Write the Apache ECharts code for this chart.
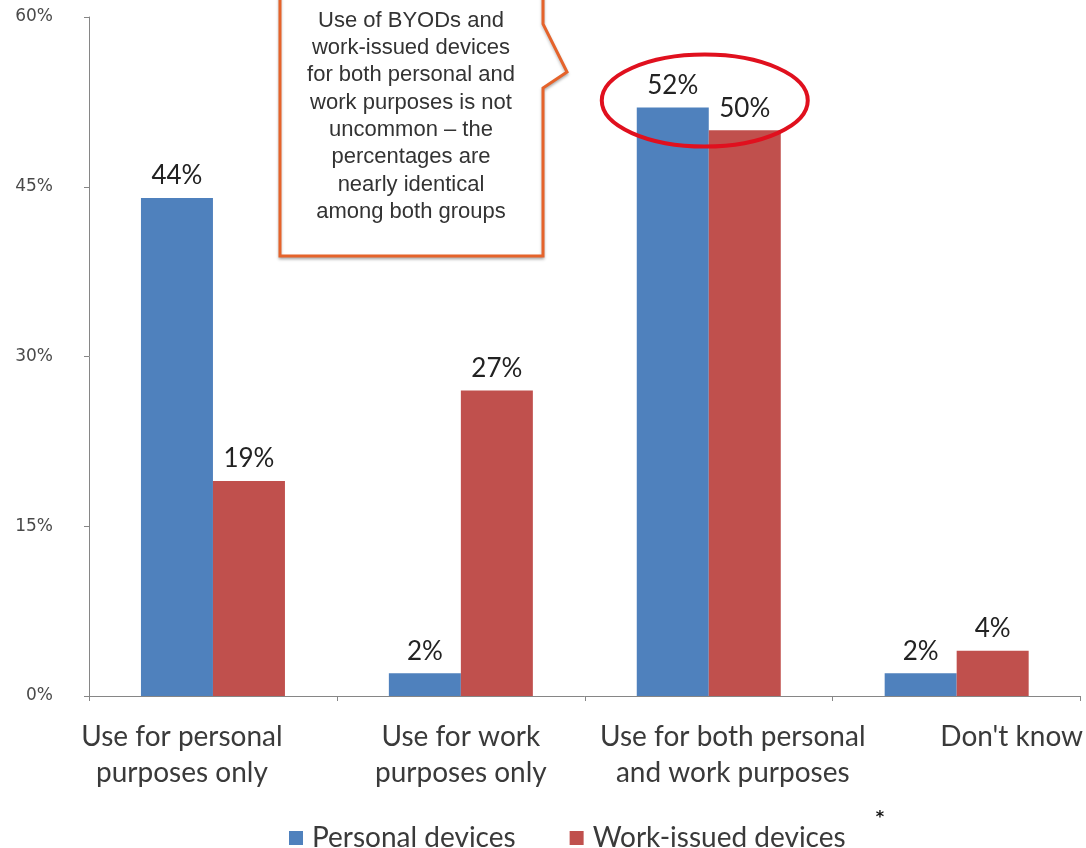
<!DOCTYPE html>
<html>
<head>
<meta charset="utf-8">
<script src="https://cdn.jsdelivr.net/npm/echarts@6/dist/echarts.min.js"></script>
<style>
  html, body { margin: 0; padding: 0; background: #ffffff; }
  #chart { width: 1086px; height: 848px; }
</style>
</head>
<body>
<div id="chart"></div>
<script>
// Device usage by purpose, personal vs. work-issued devices (percent of respondents)
const categories = [
  'Use for personal\npurposes only',
  'Use for work\npurposes only',
  'Use for both personal\nand work purposes',
  "Don't know"
];
const personalDevices = [44, 2, 52, 2];
const workIssuedDevices = [19, 27, 50, 4];
const seriesNames = ['Personal devices', 'Work-issued devices'];
const yAxisMin = 0, yAxisMax = 60, yAxisStep = 15;

const calloutLines = [
  'Use of BYODs and',
  'work-issued devices',
  'for both personal and',
  'work purposes is not',
  'uncommon \u2013 the',
  'percentages are',
  'nearly identical',
  'among both groups'
];

// horizontal nudges for the category captions (px)
const captionShift = [-31, 0, 24, 55];

const chart = echarts.init(document.getElementById('chart'), null, { renderer: 'canvas' });

const labelFont = 'Lato, "Open Sans", sans-serif';

const axisData = categories.map((c, i) => {
  const s = captionShift[i];
  return {
    value: c,
    textStyle: { padding: s >= 0 ? [0, 0, 0, 2 * s] : [0, -2 * s, 0, 0] }
  };
});

const barLabel = {
  show: true,
  position: 'top',
  distance: 9,
  formatter: '{c}%',
  fontFamily: labelFont,
  fontSize: 26,
  color: '#222222'
};

chart.setOption({
  animation: false,
  backgroundColor: '#ffffff',
  grid: { left: 89, right: 5, top: 17, bottom: 152, containLabel: false },
  legend: {
    left: 284,
    top: 819,
    itemWidth: 14,
    itemHeight: 14,
    itemGap: 54,
    icon: 'rect',
    textStyle: { fontFamily: labelFont, fontSize: 28, color: '#3a3a3a', padding: [0, 0, 0, 4] },
    data: seriesNames
  },
  xAxis: {
    type: 'category',
    data: axisData,
    axisLine: { lineStyle: { color: '#868686', width: 1 } },
    axisTick: { show: true, length: 5, lineStyle: { color: '#868686' } },
    axisLabel: {
      interval: 0,
      margin: 23,
      fontFamily: labelFont,
      fontSize: 28,
      lineHeight: 36,
      color: '#3a3a3a'
    }
  },
  yAxis: {
    type: 'value',
    min: yAxisMin,
    max: yAxisMax,
    interval: yAxisStep,
    splitLine: { show: false },
    axisLine: { show: true, lineStyle: { color: '#868686', width: 1 } },
    axisTick: { show: true, length: 5, lineStyle: { color: '#868686' } },
    axisLabel: {
      formatter: '{value}%',
      margin: 36,
      fontFamily: '"DejaVu Sans", sans-serif',
      fontSize: 17,
      color: '#4a4a4a'
    }
  },
  series: [
    {
      name: seriesNames[0],
      type: 'bar',
      data: personalDevices,
      barWidth: 72,
      barGap: '0%',
      itemStyle: { color: '#4F81BD' },
      label: barLabel
    },
    {
      name: seriesNames[1],
      type: 'bar',
      data: workIssuedDevices,
      barWidth: 72,
      barGap: '0%',
      itemStyle: { color: '#C0504D' },
      label: barLabel
    }
  ]
});

// highlight around the "both purposes" pair, anchored to the 52% bar
const anchor = chart.convertToPixel({ xAxisIndex: 0, yAxisIndex: 0 }, [2, personalDevices[2]]);

chart.setOption({
  graphic: [
    {
      type: 'polygon',
      z: 100,
      shape: {
        points: [[280, -10], [280, 256], [543, 256], [543, 88], [567, 72], [543, 24], [543, -10]]
      },
      style: {
        fill: '#ffffff',
        stroke: '#E5632B',
        lineWidth: 3,
        shadowBlur: 3,
        shadowColor: 'rgba(0,0,0,0.25)',
        shadowOffsetY: 2
      }
    },
    {
      type: 'text',
      z: 101,
      x: 411,
      y: 7,
      style: {
        text: calloutLines.join('\n'),
        textAlign: 'center',
        textVerticalAlign: 'top',
        fontFamily: '"Liberation Sans", Arial, sans-serif',
        fontSize: 22,
        lineHeight: 27.3,
        fill: '#333333'
      }
    },
    {
      type: 'ellipse',
      z: 100,
      shape: { cx: anchor[0] - 4, cy: anchor[1] - 7, rx: 103, ry: 46 },
      style: { fill: 'none', stroke: '#E0101E', lineWidth: 4 }
    },
    {
      type: 'text',
      z: 101,
      x: 880,
      y: 818,
      style: {
        text: '*',
        textAlign: 'center',
        textVerticalAlign: 'middle',
        fontFamily: '"DejaVu Sans", sans-serif',
        fontWeight: 'bold',
        fontSize: 16,
        fill: '#111111'
      }
    }
  ]
});
</script>
</body>
</html>
